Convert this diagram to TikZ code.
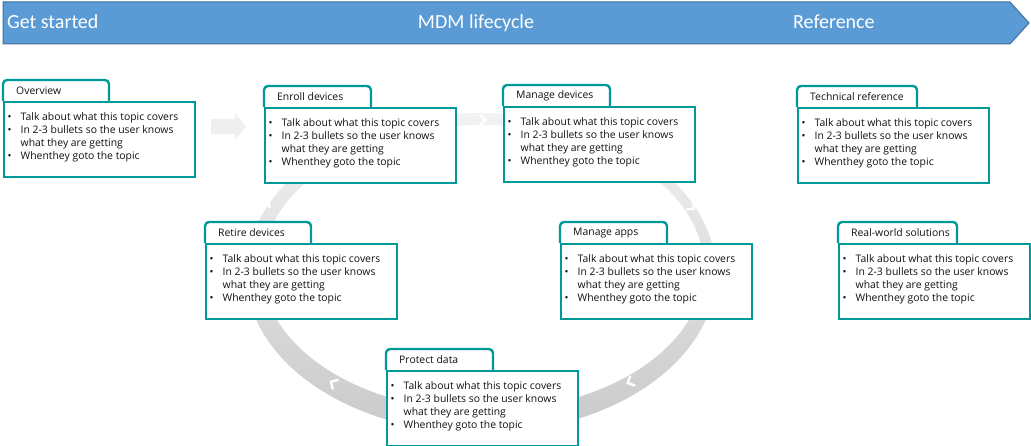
\documentclass[tikz,border=0pt]{standalone}
\usepackage{fontspec}
\setmainfont{Open Sans}
\newfontfamily\hdfont{Carlito}
\definecolor{teal1}{HTML}{009999}
\definecolor{hdblue}{HTML}{5B9BD5}
\definecolor{hdedge}{HTML}{41719C}
\definecolor{txt}{HTML}{111111}
\definecolor{arrowgray}{HTML}{EFEFEF}
\tikzset{
  tabline/.style={draw=teal1, line width=2.4pt, fill=white, line join=round},
  bodybox/.style={draw=teal1, line width=2.4pt, fill=white, anchor=north west,
    minimum width=191pt, minimum height=75pt, inner sep=0pt},
  titletext/.style={inner sep=0pt, text=txt, font=\fontsize{10.4}{13}\selectfont},
  bullettext/.style={inner sep=0pt, anchor=north west, text=txt, font=\fontsize{10.4}{13}\selectfont},
  hdtext/.style={inner sep=0pt, text=white, font=\hdfont\fontsize{20}{24}\selectfont},
  chev/.style={draw=white, line width=2.4pt, line join=miter},
}
\newcommand{\smallbullet}{{\fontsize{10.4}{13}\selectfont\textbullet}}
\newcommand{\bulletlines}{\begin{tabular}{@{}p{13pt}@{}l@{}}
\smallbullet & Talk about what this topic covers\\
\smallbullet & In 2-3 bullets so the user knows\\
 & what they are getting\\
\smallbullet & Whenthey goto the topic
\end{tabular}}
% #1 name, #2 left x, #3 body top y, #4 tab width, #5 title
\newcommand{\topicbox}[5]{%
  \draw[tabline, rounded corners=4pt] (#2,#3) -- (#2,#3-21) -- (#2+#4,#3-21) -- (#2+#4,#3);
  \node[titletext, anchor=west] (#1-title) at (#2+13,#3-10) {#5};
  \node[bodybox] (#1) at (#2,#3) {};
  \node[bullettext] (#1-text) at (#2+4.5,#3+10) {\bulletlines};
}
\newcommand{\chevron}[3]{\draw[chev, shift={(#1,#2)}, rotate=#3] (-3,5.5) -- (2.5,0) -- (-3,-5.5);}
\begin{document}
\begin{tikzpicture}[x=1pt, y=-1pt]
\useasboundingbox (0,0) rectangle (1031,446);
% lifecycle ring
\path[even odd rule, top color=gray!10, bottom color=gray!42]
  (481,273) ellipse [x radius=235, y radius=160]
  (483,268) ellipse [x radius=221, y radius=143];
\chevron{483}{120}{0}
\chevron{692}{207}{-36}
\chevron{630}{382}{207}
\chevron{333}{383}{150}
\chevron{267}{202}{53}
% header banner
\draw[fill=hdblue, draw=hdedge, line width=1pt] (3,2) -- (1010,2) -- (1029,23) -- (1010,44) -- (3,44) -- cycle;
\node[hdtext, anchor=base west] (hd-start) at (7,29) {Get started};
\node[hdtext, anchor=base] (hd-mdm) at (476,29) {MDM lifecycle};
\node[hdtext, anchor=base west] (hd-ref) at (793,29) {Reference};
% block arrow
\fill[arrowgray] (211,119) -- (235,119) -- (235,113) -- (246,126.5) -- (235,140) -- (235,134) -- (211,134) -- cycle;
% topic boxes
\topicbox{overview}{3}{101}{106}{Overview}
\topicbox{enroll}{264}{107}{107}{Enroll devices}
\topicbox{managedev}{503}{106}{107}{Manage devices}
\topicbox{techref}{797}{107}{120}{Technical reference}
\topicbox{retire}{205}{243}{106}{Retire devices}
\topicbox{manageapps}{560}{243}{107}{Manage apps}
\topicbox{realworld}{838}{243}{119}{Real-world solutions}
\topicbox{protect}{386}{370}{107}{Protect data}
\end{tikzpicture}
\end{document}
